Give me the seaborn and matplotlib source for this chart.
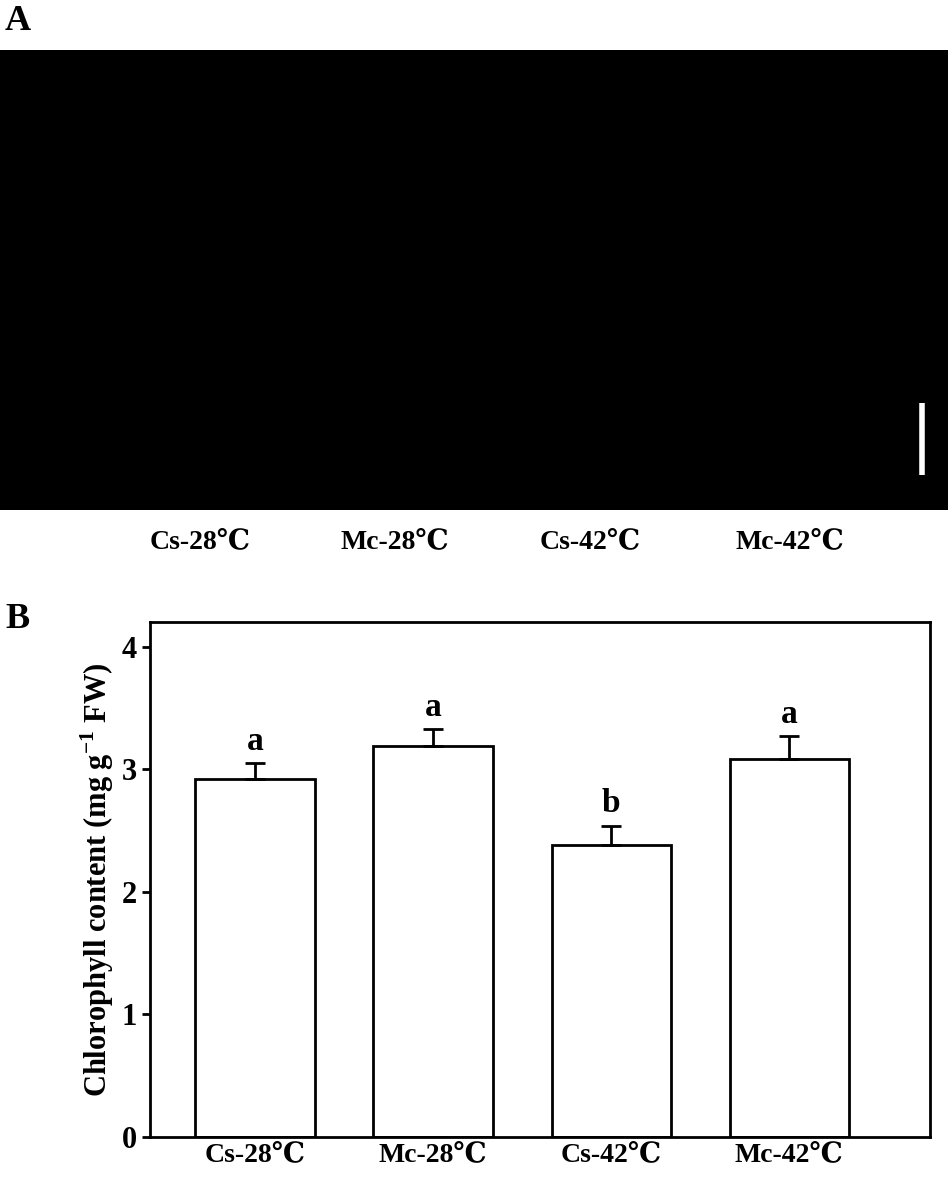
import matplotlib
matplotlib.use("Agg")
import matplotlib.pyplot as plt
import seaborn as sns
import pandas as pd

categories = ["Cs-28℃", "Mc-28℃", "Cs-42℃", "Mc-42℃"]
values = [2.92, 3.19, 2.38, 3.08]
errors = [0.13, 0.14, 0.16, 0.19]
letters = ["a", "a", "b", "a"]
yticks = [0, 1, 2, 3, 4]

sns.set_theme(style="ticks")
plt.rcParams['font.family'] = ['Liberation Serif', 'DejaVu Serif']
plt.rcParams['font.weight'] = 'bold'
plt.rcParams['text.color'] = 'black'
plt.rcParams['axes.labelcolor'] = 'black'
plt.rcParams['xtick.color'] = 'black'
plt.rcParams['ytick.color'] = 'black'
plt.rcParams['mathtext.fontset'] = 'custom'
plt.rcParams['mathtext.rm'] = 'Liberation Serif:bold'
plt.rcParams['mathtext.bf'] = 'Liberation Serif:bold'

W, H = 948, 1178
fig = plt.figure(figsize=(W/100, H/100), dpi=100)

# Panel A (photo placeholder)
axA = fig.add_axes([0, 1-510/H, 1, 460/H])
axA.set_facecolor("black")
axA.set_xlim(0, 948); axA.set_ylim(0, 460)
axA.set_xticks([]); axA.set_yticks([])
for s in axA.spines.values():
    s.set_visible(False)
axA.plot([922, 922], [35, 107], color="white", lw=4, solid_capstyle="butt")
fig.text(5/W, 1-22/H, "A", fontsize=26, fontweight="bold", va="center", color="black")
for x, c in zip([200, 395, 590, 790], categories):
    fig.text(x/W, 1-542/H, c, fontsize=20, fontweight="bold", ha="center", va="center", color="black")

# Panel B
df = pd.DataFrame({"cat": categories, "val": values})
axB = fig.add_axes([150/W, 1-1137/H, 780/W, (1137-622)/H])
sns.barplot(data=df, x="cat", y="val", ax=axB, color="white", edgecolor="black",
            linewidth=2, width=0.67, errorbar=None)
axB.errorbar(range(4), values, yerr=[[0]*4, errors], fmt="none", ecolor="black",
             elinewidth=2, capsize=7, capthick=2)
for i, (v, e, l) in enumerate(zip(values, errors, letters)):
    axB.text(i, v+e+0.05, l, ha="center", va="bottom", fontsize=24, fontweight="bold", color="black")
axB.set_xlim(-0.59, 3.79)
axB.set_ylim(0, 4.2)
axB.set_yticks(yticks)
axB.set_yticklabels([str(t) for t in yticks], fontsize=22, fontweight="bold", color="black")
axB.set_xticks(range(4))
axB.set_xticklabels(categories, fontsize=20, fontweight="bold", color="black")
axB.set_xlabel("")
axB.set_ylabel(r"Chlorophyll content (mg g$^{-1}$ FW)", fontsize=22, fontweight="bold", color="black")
for s in axB.spines.values():
    s.set_visible(True); s.set_linewidth(2); s.set_color("black")
axB.tick_params(axis="both", width=2, length=6, direction="out", color="black")
axB.tick_params(axis="x", length=0)
fig.text(5/W, 1-620/H, "B", fontsize=26, fontweight="bold", va="center", color="black")

fig.savefig("out.png", dpi=100)
